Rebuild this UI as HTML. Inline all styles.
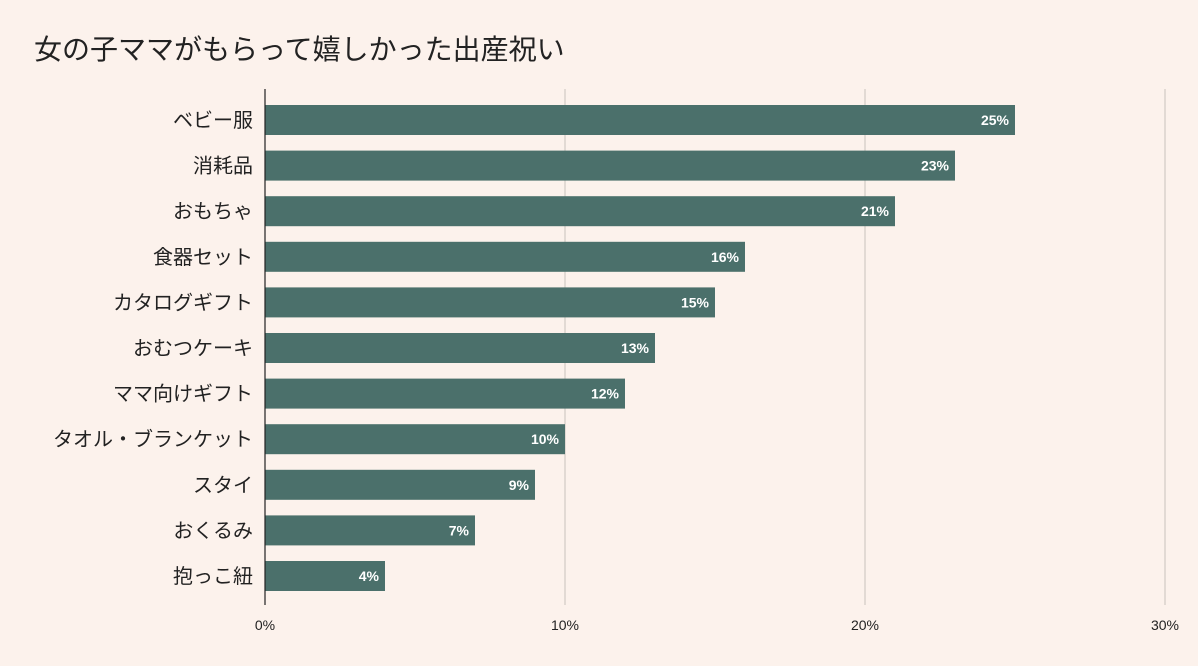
<!DOCTYPE html>
<html><head><meta charset="utf-8"><style>
body{margin:0;background:#fcf2ec;}
svg{display:block;font-family:"Liberation Sans","Noto Sans CJK JP",sans-serif;}
</style></head><body>
<svg width="1198" height="666">
<rect width="1198" height="666" fill="#fcf2ec"/>
<text x="34" y="59" font-size="28" fill="#222">女の子ママがもらって嬉しかった出産祝い</text>
<g id="grid"></g><g id="bars"></g><g id="ylabels"></g><g id="xlabels"></g>
<line x1="265" y1="89" x2="265" y2="605" stroke="#222" stroke-width="1.2"/>
</svg>
<script>
const categories=["ベビー服","消耗品","おもちゃ","食器セット","カタログギフト","おむつケーキ","ママ向けギフト","タオル・ブランケット","スタイ","おくるみ","抱っこ紐"];
const values=[25,23,21,16,15,13,12,10,9,7,4];
const ticks=[0,10,20,30];
const NS="http://www.w3.org/2000/svg";
const x0=265,xs=30,top0=120,step=45.6,bh=30;
const xPos=v=>x0+v*xs, yPos=i=>top0+i*step;
function mk(t,a,p){const e=document.createElementNS(NS,t);for(const k in a)e.setAttribute(k,a[k]);p.appendChild(e);return e;}
const g=document.getElementById('grid'),b=document.getElementById('bars'),yl=document.getElementById('ylabels'),xl=document.getElementById('xlabels');
ticks.forEach(t=>{
 if(t>0){const l=mk('line',{x1:xPos(t),x2:xPos(t),y1:89,y2:605,stroke:'#c9c2bd','stroke-width':1},g);
 
 }
 const tx=mk('text',{x:xPos(t),y:630,'font-size':14,'text-anchor':'middle',fill:'#222'},xl);tx.textContent=t+'%';
 
 
});
categories.forEach((c,i)=>{
 const y=yPos(i);
 const r=mk('rect',{x:x0,y:y-bh/2,width:xPos(values[i])-x0,height:bh,fill:'#4b706b'},b);
 
 
 const v=mk('text',{x:xPos(values[i])-6,y:y+5,'font-size':14,'font-weight':'bold','text-anchor':'end',fill:'#fff'},b);v.textContent=values[i]+'%';
 
 
 const l=mk('text',{x:253,y:y+7,'font-size':20,'text-anchor':'end',fill:'#222'},yl);l.textContent=c;
 
 
});
</script>
</body></html>
